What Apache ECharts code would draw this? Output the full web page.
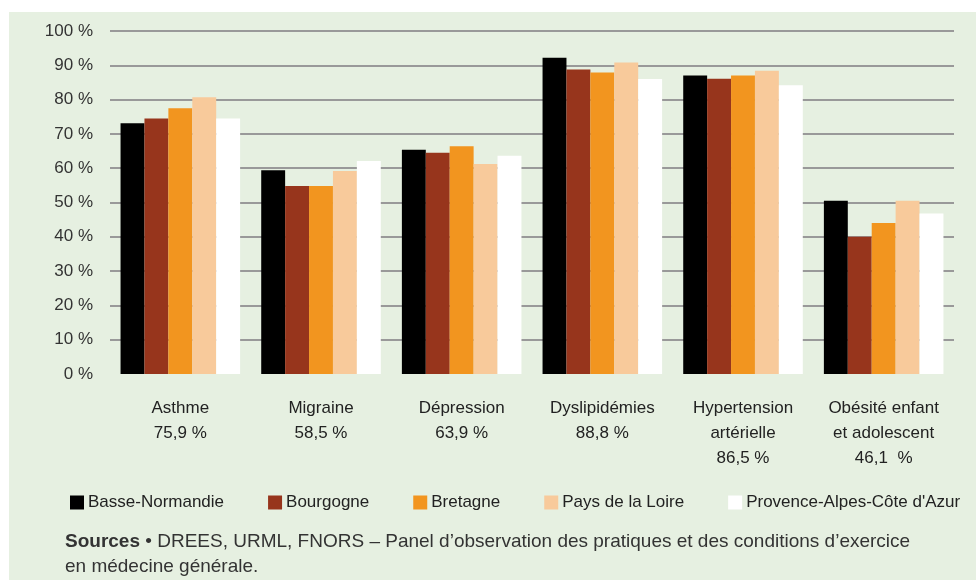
<!DOCTYPE html>
<html>
<head>
<meta charset="utf-8">
<script src="https://cdn.jsdelivr.net/npm/echarts@6/dist/echarts.min.js"></script>
<style>
  html, body { margin: 0; padding: 0; background: #fff; }
  #chart { width: 976px; height: 580px; }
</style>
</head>
<body>
<div id="chart"></div>
<script>
// catégories (axe x)
const categories = [
  'Asthme\n75,9 %',
  'Migraine\n58,5 %',
  'Dépression\n63,9 %',
  'Dyslipidémies\n88,8 %',
  'Hypertension\nartérielle\n86,5 %',
  'Obésité enfant\net adolescent\n46,1  %'
];
const regions = ['Basse-Normandie', 'Bourgogne', 'Bretagne', 'Pays de la Loire', "Provence-Alpes-Côte d'Azur"];
const colors = ['#000000', '#97351c', '#f2951f', '#f8ca9b', '#ffffff'];

// valeurs (%)
const basseNormandie = [73.1, 59.4, 65.4, 92.2, 87.0, 50.5];
const bourgogne      = [74.5, 54.8, 64.5, 88.8, 86.1, 40.0];
const bretagne       = [77.5, 54.8, 66.4, 87.9, 87.0, 44.0];
const paysDeLaLoire  = [80.7, 59.2, 61.2, 90.8, 88.4, 50.5];
const paca           = [74.5, 62.1, 63.6, 86.0, 84.2, 46.8];
const seriesValues = [basseNormandie, bourgogne, bretagne, paysDeLaLoire, paca];

const yTicks = { min: 0, max: 100, interval: 10 };

const font = '"Liberation Sans", Arial, sans-serif';
const myChart = echarts.init(document.getElementById('chart'));

const series = regions.map((name, i) => ({
  name: name,
  type: 'bar',
  data: seriesValues[i],
  barGap: '0%',
  barCategoryGap: '15%',
  itemStyle: { color: colors[i] }
}));

myChart.setOption({
  animation: false,
  backgroundColor: '#ffffff',
  textStyle: { fontFamily: font },
  graphic: [
    {
      type: 'rect',
      z: -10,
      silent: true,
      shape: { x: 9, y: 12, width: 967, height: 568 },
      style: { fill: '#e6f0e1' }
    },
    {
      type: 'text',
      left: 65,
      top: 529,
      style: {
        text: '{b|Sources} • DREES, URML, FNORS – Panel d’observation des pratiques et des conditions d’exercice\nen médecine générale.',
        rich: {
          b: { fontWeight: 'bold', fontSize: 19, fontFamily: font, fill: '#333' }
        },
        fontSize: 19,
        lineHeight: 25,
        fontFamily: font,
        fill: '#333'
      }
    }
  ],
  legend: {
    left: 65,
    top: 489,
    icon: 'rect',
    itemWidth: 14,
    itemHeight: 14,
    itemGap: 44,
    data: regions,
    textStyle: { fontSize: 17, color: '#222', fontFamily: font, padding: [0, 0, 0, -1] }
  },
  grid: { left: 110, right: 22, top: 31, bottom: 206 },
  xAxis: {
    type: 'category',
    data: categories,
    axisLine: { show: false },
    axisTick: { show: false },
    axisLabel: {
      interval: 0,
      margin: 22,
      fontSize: 17,
      lineHeight: 25,
      color: '#222',
      fontFamily: font
    }
  },
  yAxis: {
    type: 'value',
    min: yTicks.min,
    max: yTicks.max,
    interval: yTicks.interval,
    axisLine: { show: false },
    axisTick: { show: false },
    axisLabel: {
      formatter: '{value} %',
      margin: 17,
      fontSize: 17,
      color: '#333',
      fontFamily: font,
      showMinLabel: true
    },
    splitLine: {
      show: true,
      showMinLine: false,
      lineStyle: { color: '#999', width: 2 }
    }
  },
  series: series
});
</script>
</body>
</html>
